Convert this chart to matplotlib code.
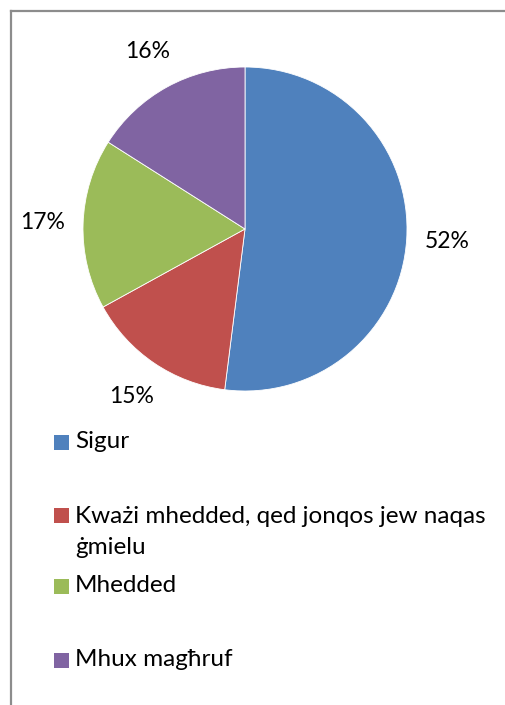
import matplotlib.pyplot as plt
from matplotlib.lines import Line2D
from matplotlib.patches import Rectangle

# dane
categories = ['Sigur', 'Kważi mhedded, qed jonqos jew naqas\nġmielu', 'Mhedded', 'Mhux magħruf']
values = [52, 15, 17, 16]
colors = ['#4F81BD', '#C0504D', '#9BBB59', '#8064A2']

plt.rcParams['font.family'] = ['Lato', 'DejaVu Sans']

W, H = 506, 705
fig = plt.figure(figsize=(W / 100, H / 100), dpi=100)

# ramka (lewa i górna krawędź)
fig.add_artist(Line2D([11 / W, 11 / W], [0, 1 - 11 / H], transform=fig.transFigure,
                      color='#8c8c8c', lw=1.6))
fig.add_artist(Line2D([11 / W, 1], [1 - 11 / H, 1 - 11 / H], transform=fig.transFigure,
                      color='#8c8c8c', lw=1.6))

cx, cy, r = 245, 229, 162
ax = fig.add_axes([(cx - r) / W, 1 - (cy + r) / H, 2 * r / W, 2 * r / H])
ax.pie(values, colors=colors, startangle=90, counterclock=False, radius=1,
       autopct='%1.0f%%', pctdistance=1.25,
       wedgeprops=dict(edgecolor='white', linewidth=0.6),
       textprops=dict(fontsize=16.5, color='black'))
ax.set_xlim(-1, 1)
ax.set_ylim(-1, 1)
ax.set_aspect('equal')
ax.axis('off')

# legenda
leg_y = [442, 515, 586, 660]
for lab, col, y in zip(categories, colors, leg_y):
    fig.add_artist(Rectangle((54 / W, 1 - (y + 7.5) / H), 15 / W, 15 / H,
                             transform=fig.transFigure, facecolor=col, edgecolor='none'))
    if '\n' in lab:
        fig.text(75 / W, 1 - (y - 9) / H, lab, fontsize=17.5, va='top',
                 ha='left', linespacing=1.6)
    else:
        fig.text(75 / W, 1 - y / H, lab, fontsize=17.5, va='center', ha='left')

fig.savefig('out.png', dpi=100)
